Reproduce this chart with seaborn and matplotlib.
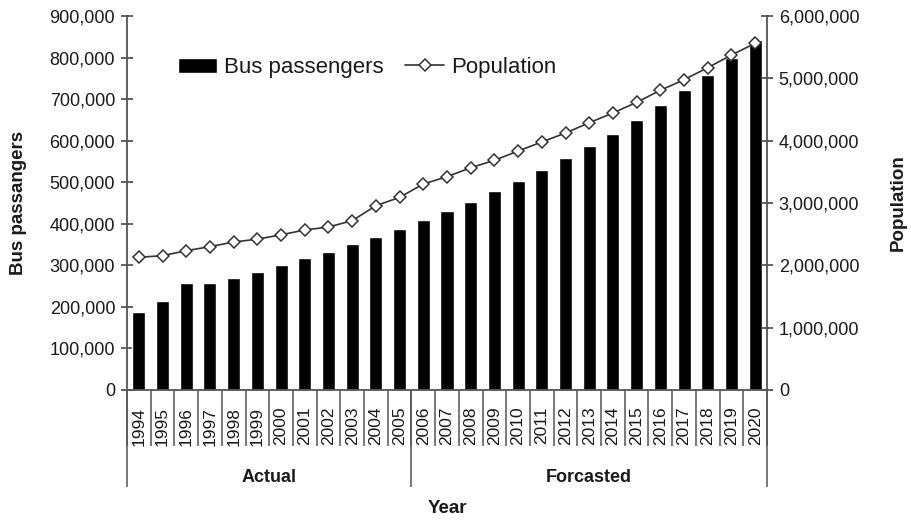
import numpy as np
import pandas as pd
import matplotlib
matplotlib.use('Agg')
import matplotlib.pyplot as plt
import matplotlib.transforms as mtransforms
from matplotlib.ticker import FuncFormatter, FixedLocator, NullFormatter
import seaborn as sns

# datos
years = [str(y) for y in range(1994, 2021)]
bus_passengers = [188000, 214000, 257000, 257000, 269000, 284000, 300000, 318000,
                  332000, 351000, 369000, 387000, 409000, 431000, 453000, 479000,
                  504000, 529000, 558000, 588000, 617000, 650000, 686000, 722000,
                  759000, 800000, 843000]
population = [2129000, 2155000, 2235000, 2300000, 2374000, 2420000, 2490000, 2567000,
              2615000, 2716000, 2957000, 3090000, 3305000, 3422000, 3566000, 3685000,
              3834000, 3979000, 4123000, 4288000, 4444000, 4615000, 4808000, 4978000,
              5171000, 5374000, 5562000]
groups = ['Actual', 'Forcasted']
group_edges = [-0.5, 11.5, 26.5]

df = pd.DataFrame({'Year': years, 'Bus': bus_passengers, 'Population': population})

sns.set_style('ticks')
plt.rcParams['font.family'] = ['Liberation Sans', 'DejaVu Sans']
ink = '#1a1a1a'
axis_col = '#555555'
plt.rcParams['text.color'] = ink
plt.rcParams['axes.labelcolor'] = ink
plt.rcParams['xtick.color'] = axis_col
plt.rcParams['ytick.color'] = axis_col
plt.rcParams['xtick.labelcolor'] = ink
plt.rcParams['ytick.labelcolor'] = ink

fig = plt.figure(figsize=(9.12, 5.2), dpi=100)
ax = fig.add_axes([127 / 912, 1 - 390 / 520, 640 / 912, 374 / 520])

# barras de pasajeros
sns.barplot(data=df, x='Year', y='Bus', color='black', width=0.55,
            saturation=1, ax=ax, label='Bus passengers')
ax.set_xlim(-0.5, 26.5)
ax.set_ylim(0, 900000)
ax.set_yticks(np.arange(0, 900001, 100000))
ax.yaxis.set_major_formatter(FuncFormatter(lambda v, p: f'{v:,.0f}'))

# linea de poblacion en el eje derecho
ax2 = ax.twinx()
sns.lineplot(x=np.arange(len(years)), y=population, ax=ax2, color='#333333',
             linewidth=1.2, marker='D', markersize=6, markerfacecolor='white',
             markeredgecolor='#333333', markeredgewidth=1.1, label='Population')
ax2.set_ylim(0, 6000000)
ax2.set_yticks(np.arange(0, 6000001, 1000000))
ax2.yaxis.set_major_formatter(FuncFormatter(lambda v, p: f'{v:,.0f}'))

for a in (ax, ax2):
    for s in a.spines.values():
        s.set_color(axis_col)
        s.set_linewidth(1.3)
    a.spines['top'].set_visible(False)
ax.spines['right'].set_visible(False)
ax2.spines['left'].set_visible(False)
ax2.spines['bottom'].set_visible(False)

ax.tick_params(axis='y', direction='inout', length=9, width=1.3, labelsize=13, pad=4)
ax2.tick_params(axis='y', direction='inout', length=9, width=1.3, labelsize=13, pad=4)

# etiquetas de años con separadores
ax.set_xticks(np.arange(len(years)))
ax.set_xticklabels(years, rotation=90, fontsize=12.5)
ax.tick_params(axis='x', which='major', length=0, pad=12)
ax.xaxis.set_minor_locator(FixedLocator(np.arange(-0.5, 27, 1)))
ax.tick_params(axis='x', which='minor', direction='out', length=40, width=1.1, color=axis_col)

sec = ax.secondary_xaxis('bottom')
sec.set_xticks(group_edges)
sec.xaxis.set_major_formatter(NullFormatter())
sec.tick_params(axis='x', direction='out', length=70, width=1.1, color=axis_col)
sec.spines['bottom'].set_visible(False)

trans = mtransforms.blended_transform_factory(ax.transData, ax.transAxes)
for i, g in enumerate(groups):
    xc = (group_edges[i] + group_edges[i + 1]) / 2
    ax.text(xc, -0.233, g, transform=trans, ha='center', va='center',
            fontsize=13, fontweight='bold')

ax.set_xlabel('Year', fontsize=13.5, fontweight='bold')
ax.xaxis.set_label_coords(0.5, -0.316)
ax.xaxis.label.set_va('center')
ax.set_ylabel('Bus passangers', fontsize=13.5, fontweight='bold')
ax.yaxis.set_label_coords(-0.170, 0.5)
ax.yaxis.label.set_va('center')
ax2.set_ylabel('Population', fontsize=13.5, fontweight='bold', rotation=90)
ax2.yaxis.set_label_coords(1.205, 0.5)
ax2.yaxis.label.set_va('center')

# leyenda
h1, l1 = ax.get_legend_handles_labels()
h2, l2 = ax2.get_legend_handles_labels()
if ax.get_legend() is not None:
    ax.get_legend().remove()
ax2.legend(h1 + h2, l1 + l2, loc='center left', bbox_to_anchor=(0.0797, 0.862),
           ncol=2, frameon=False, fontsize=16, borderpad=0, borderaxespad=0,
           handlelength=1.75, handleheight=0.7, handletextpad=0.3, columnspacing=1.0)

fig.savefig('out.png', dpi=100)
